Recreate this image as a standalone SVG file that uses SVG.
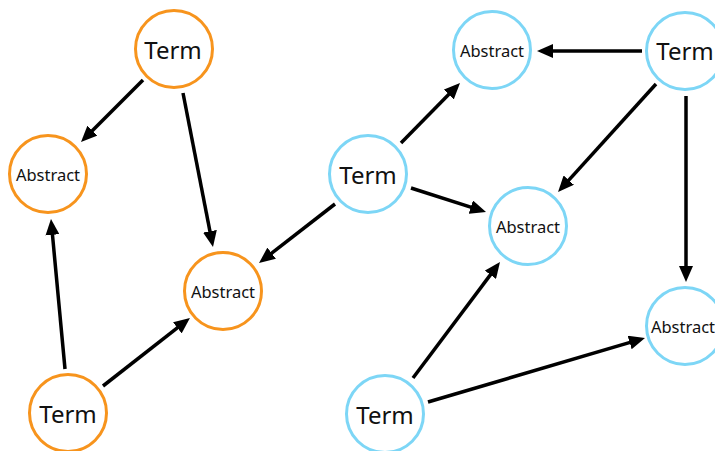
<svg xmlns="http://www.w3.org/2000/svg" width="715" height="451" viewBox="0 0 715 451">
  <style>
    .node circle { fill: #ffffff; stroke-width: 3; }
    .orange circle { stroke: #F7941D; }
    .blue circle { stroke: #7DD6F6; }
    .node text { font-family: "Noto Sans", "DejaVu Sans", sans-serif; fill: #111111; text-anchor: middle; dominant-baseline: central; }
    .term text { font-size: 24px; }
    .abstract text { font-size: 16.5px; }
    .edges line { stroke: #000000; stroke-width: 3.5; marker-end: url(#arrow); }
  </style>
  <defs>
    <marker id="arrow" markerUnits="userSpaceOnUse" markerWidth="16" markerHeight="14" refX="4" refY="7" orient="auto" viewBox="0 0 16 14">
      <path d="M0,0 L16,7 L0,14 z" fill="#000000"/>
    </marker>
  </defs>
  <rect width="715" height="451" fill="#ffffff"/>

  <!-- connectors -->
  <g id="connectors" class="edges">
    <line x1="143" y1="80" x2="89.5" y2="133.5"/>
    <line x1="183" y1="93" x2="210.7" y2="235.2"/>
    <line x1="65" y1="369" x2="52.1" y2="230.9"/>
    <line x1="103" y1="386" x2="180.5" y2="325.4"/>
    <line x1="335" y1="204" x2="268.5" y2="255.6"/>
    <line x1="401" y1="143" x2="451.6" y2="91.6"/>
    <line x1="411" y1="188" x2="474.6" y2="208.3"/>
    <line x1="642" y1="51" x2="549" y2="51"/>
    <line x1="656" y1="84" x2="566.1" y2="183.1"/>
    <line x1="686" y1="96" x2="686" y2="270"/>
    <line x1="413" y1="378" x2="492.8" y2="271.6"/>
    <line x1="428" y1="402" x2="633.5" y2="341.4"/>
  </g>

  <!-- orange cluster -->
  <g id="o-term-top" class="node orange term">
    <circle cx="174" cy="49" r="38.5"/>
    <text x="173" y="49">Term</text>
  </g>
  <g id="o-abstract-left" class="node orange abstract">
    <circle cx="48" cy="174" r="38.5"/>
    <text x="48" y="174">Abstract</text>
  </g>
  <g id="o-abstract-mid" class="node orange abstract">
    <circle cx="223" cy="291" r="38.5"/>
    <text x="223" y="291">Abstract</text>
  </g>
  <g id="o-term-bottom" class="node orange term">
    <circle cx="68" cy="413" r="38.5"/>
    <text x="68" y="413">Term</text>
  </g>

  <!-- blue cluster -->
  <g id="b-term-center" class="node blue term">
    <circle cx="368" cy="174" r="38.5"/>
    <text x="368" y="174">Term</text>
  </g>
  <g id="b-abstract-top" class="node blue abstract">
    <circle cx="492" cy="50" r="38.5"/>
    <text x="492" y="50">Abstract</text>
  </g>
  <g id="b-term-right" class="node blue term">
    <circle cx="685" cy="51" r="38.5"/>
    <text x="685" y="50">Term</text>
  </g>
  <g id="b-abstract-center" class="node blue abstract">
    <circle cx="528" cy="226" r="38.5"/>
    <text x="528" y="226">Abstract</text>
  </g>
  <g id="b-abstract-right" class="node blue abstract">
    <circle cx="685" cy="326" r="38.5"/>
    <text x="683" y="326">Abstract</text>
  </g>
  <g id="b-term-bottom" class="node blue term">
    <circle cx="385" cy="414" r="38.5"/>
    <text x="385" y="414">Term</text>
  </g>
</svg>
